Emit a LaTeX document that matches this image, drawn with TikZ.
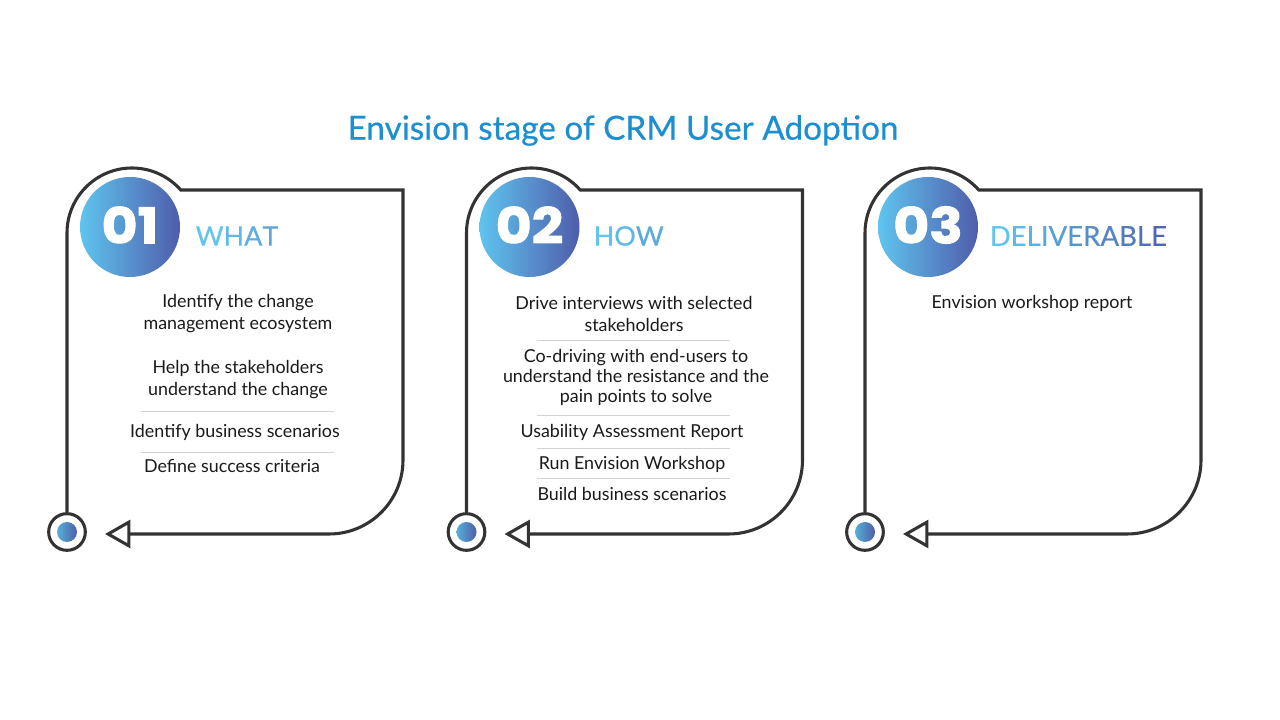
\documentclass[tikz,border=0pt]{standalone}
\usepackage{fontspec}
\setmainfont{Lato}
\newfontfamily\numfont{Poppins}[UprightFont=*-Bold, FakeBold=2, FakeStretch=1.12]
\newfontfamily\titlefont{Lato}[FakeBold=0.4]
\newfontfamily\headfont{Lato}[FakeBold=0.25]
\usetikzlibrary{positioning}
\usetikzlibrary{calc}
\usetikzlibrary{arrows.meta}
\definecolor{inkline}{HTML}{333333}
\definecolor{ballL}{HTML}{5FC4EF}
\definecolor{ballR}{HTML}{4F5DAA}
\definecolor{titleblue}{HTML}{1C8FD0}
\definecolor{rulegray}{HTML}{D2D2D2}
\definecolor{bodyink}{HTML}{1A1A1A}
\tikzset{
  outline/.style={draw=inkline, line width=2.3pt},
  ball/.style={circle, minimum size=75pt, inner sep=0pt, shading=axis, left color=ballL, right color=ballR, shading angle=90},
  dot/.style={circle, minimum size=15pt, inner sep=0pt, shading=axis, left color=ballL!90!black, right color=ballR},
  ring/.style={circle, minimum size=27.5pt, inner sep=0pt, outline},
  numtext/.style={font=\numfont\fontsize{37}{37}\selectfont, text=white},
  headtext/.style={font=\headfont\fontsize{20.2}{21}\selectfont, anchor=west},
  bodytext/.style={font=\fontsize{13.4}{16}\selectfont, text=bodyink, align=center},
  sepline/.style={draw=rulegray, line width=0.5pt}
}
% one card: x shift, suffix, number
\newcommand{\Card}[3]{
\begin{scope}[xshift=#1*0.75pt]
\node[ring] (ring#2) at (67,188) {};
\node[dot] (dot#2) at (67,188) {};
\coordinate (tip#2) at (105,186);
\draw[outline, -{Triangle[open, length=19pt, width=21pt, line width=2.3pt]}] (ring#2.north) -- (67,487) arc[start angle=180, end angle=41.4, radius=65] -- (403,530) -- (403,260) arc[start angle=0, end angle=-90, radius=74] -- (tip#2);
\node[ball] (ball#2) at (130,493) {};
\node[numtext] (num#2) at (130,495) {#3};
\end{scope}
}
\begin{document}
\begin{tikzpicture}[x=0.75pt, y=0.75pt]
\useasboundingbox[fill=white] (0,0) rectangle (1280,720);

\node[font=\titlefont\fontsize{25}{25}\selectfont, text=titleblue] (title) at (623,589.5) {Envision stage of CRM User Adoption};

\Card{0}{A}{01}
\Card{399.5}{B}{02}
\Card{798}{C}{03}

% headers
\node[headtext] (headA) at (191,484) {\textcolor{ballL}{W}\textcolor{ballL!90!ballR}{H}\textcolor{ballL!80!ballR}{A}\textcolor{ballL!70!ballR}{T}};
\node[headtext] (headB) at (589,484) {\textcolor{ballL}{H}\textcolor{ballL!90!ballR}{O}\textcolor{ballL!75!ballR}{W}};
\node[headtext, font=\headfont\fontsize{20.7}{21}\selectfont] (headC) at (985,484) {\textcolor{ballL}{D}\textcolor{ballL!91!ballR}{E}\textcolor{ballL!82!ballR}{L}\textcolor{ballL!73!ballR}{I}\textcolor{ballL!64!ballR}{V}\textcolor{ballL!55!ballR}{E}\textcolor{ballL!46!ballR}{R}\textcolor{ballL!37!ballR}{A}\textcolor{ballL!28!ballR}{B}\textcolor{ballL!19!ballR}{L}\textcolor{ballL!10!ballR}{E}};

% first card
\node[bodytext] (whatA) at (238,406) {Identify the change\\[0.5pt]management ecosystem};
\node[bodytext] (whatB) at (238,340) {Help the stakeholders\\[0.5pt]understand the change};
\node[bodytext] (whatC) at (235,288) {Identify business scenarios};
\node[bodytext] (whatD) at (232,254) {Define success criteria};
\foreach \y in {309,268}
  \draw[sepline] (141,\y) -- (334,\y);

% second card
\node[bodytext] (howA) at (634,406) {Drive interviews with selected\\[0.5pt]stakeholders};
\node[bodytext] (howB) at (636,343) {Co-driving with end-users to\\[-1pt]understand the resistance and the\\[-1pt]pain points to solve};
\node[bodytext] (howC) at (632,288) {Usability Assessment Report};
\node[bodytext] (howD) at (632,256) {Run Envision Workshop};
\node[bodytext] (howE) at (632,226) {Build business scenarios};
\foreach \y in {380,305,272,242}
  \draw[sepline] (537,\y) -- (730,\y);

% third card
\node[bodytext] (delivA) at (1032,417) {Envision workshop report};
\end{tikzpicture}
\end{document}
